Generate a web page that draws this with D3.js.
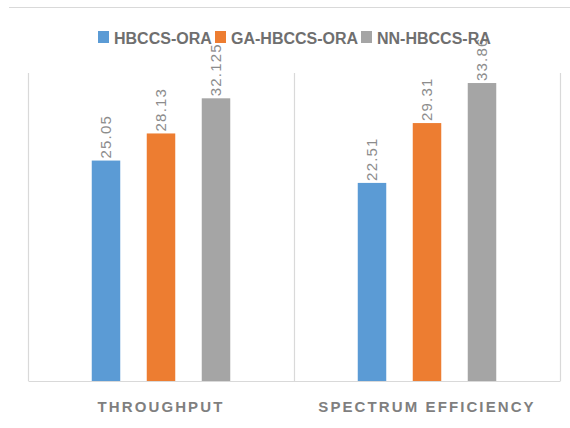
<!DOCTYPE html>
<html>
<head>
<meta charset="utf-8">
<script src="https://cdn.jsdelivr.net/npm/d3@7"></script>
<style>
  html, body { margin: 0; padding: 0; background: #fff; }
  svg { display: block; }
</style>
</head>
<body>
<svg id="chart" width="570" height="428"></svg>
<script>
// Metrics compared across the three allocation schemes
const categories = ["THROUGHPUT", "SPECTRUM EFFICIENCY"];
const seriesNames = ["HBCCS-ORA", "GA-HBCCS-ORA", "NN-HBCCS-RA"];
const hbccsOra = [25.05, 22.51];
const gaHbccsOra = [28.13, 29.31];
const nnHbccsRa = [32.125, 33.86];
const valueLabels = [["25.05", "22.51"], ["28.13", "29.31"], ["32.125", "33.86"]];
const colors = ["#5b9bd5", "#ed7d31", "#a5a5a5"];

const seriesValues = [hbccsOra, gaHbccsOra, nnHbccsRa];

const svg = d3.select("#chart");
const W = 570, H = 428;
const plot = { left: 28, right: 560, top: 73, bottom: 381 };

const x0 = d3.scaleBand().domain(categories).range([plot.left, plot.right]).padding(0);
const x1 = d3.scalePoint().domain(seriesNames).range([-55, 55]);
const y = d3.scaleLinear().domain([0, 35]).range([plot.bottom, plot.top]);
const barW = 28.5;

// outer frame top edge
svg.append("line")
  .attr("x1", 9).attr("x2", W).attr("y1", 7.5).attr("y2", 7.5)
  .attr("stroke", "#d9d9d9").attr("stroke-width", 1);

// category dividers
const gridX = [plot.left, x0(categories[1]), plot.right];
svg.append("g").selectAll("line").data(gridX).join("line")
  .attr("x1", d => d + 0.5).attr("x2", d => d + 0.5)
  .attr("y1", plot.top).attr("y2", plot.bottom)
  .attr("stroke", "#d9d9d9").attr("stroke-width", 1.2);

// category axis
const xAxis = svg.append("g")
  .attr("transform", `translate(0,${plot.bottom})`)
  .call(d3.axisBottom(x0).tickSize(0).tickPadding(0));
xAxis.select(".domain").attr("stroke", "#d9d9d9").attr("stroke-width", 1.2);
xAxis.selectAll("text")
  .attr("dy", null)
  .attr("y", 31)
  .attr("font-family", "Liberation Sans, Arial, sans-serif")
  .attr("font-size", 15)
  .attr("font-weight", "bold")
  .attr("letter-spacing", "2.1px")
  .attr("fill", "#7f7f7f");

// bars
const groups = svg.append("g").selectAll("g")
  .data(seriesNames.map((name, i) => ({ name, i, values: seriesValues[i] })))
  .join("g");

groups.selectAll("rect")
  .data(s => s.values.map((v, j) => ({ v, cat: categories[j], s })))
  .join("rect")
  .attr("x", d => x0(d.cat) + x0.bandwidth() / 2 + x1(d.s.name) - barW / 2)
  .attr("y", d => y(d.v))
  .attr("width", barW)
  .attr("height", d => y(0) - y(d.v))
  .attr("fill", d => colors[d.s.i]);

// value labels, rotated above each bar
groups.selectAll("text")
  .data(s => s.values.map((v, j) => ({ v, cat: categories[j], s, label: valueLabels[s.i][j] })))
  .join("text")
  .attr("transform", d => {
    const cx = x0(d.cat) + x0.bandwidth() / 2 + x1(d.s.name);
    return `translate(${cx + 5},${y(d.v) - 2}) rotate(-90)`;
  })
  .attr("font-family", "Liberation Sans, Arial, sans-serif")
  .attr("font-size", 15)
  .attr("letter-spacing", "1.2px")
  .attr("fill", "#8c8c8c")
  .text(d => d.label);

// legend
const legendX = [98, 215, 361];
const legend = svg.append("g").selectAll("g")
  .data(seriesNames)
  .join("g")
  .attr("transform", (d, i) => `translate(${legendX[i]},31)`);
legend.append("rect")
  .attr("width", 11).attr("height", 12)
  .attr("fill", (d, i) => colors[i]);
legend.append("text")
  .attr("x", 16).attr("y", 12.5)
  .attr("font-family", "Liberation Sans, Arial, sans-serif")
  .attr("font-size", 16)
  .attr("font-weight", "bold")
  .attr("fill", "#6f6f6f")
  .text(d => d);
</script>
</body>
</html>
